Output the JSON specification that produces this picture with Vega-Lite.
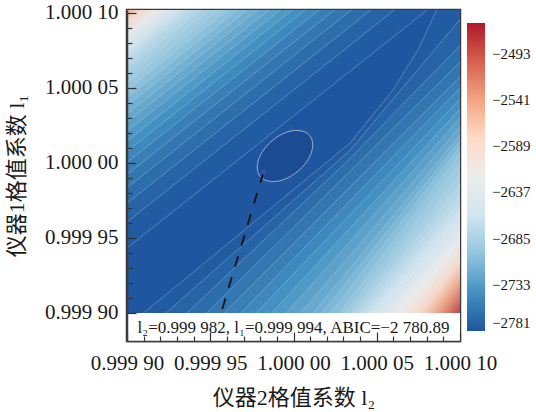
{
"$schema":"https://vega.github.io/schema/vega-lite/v6.json",
"width":333,"height":331,
"autosize":{"type":"none"},
"padding":{"left":127,"top":10,"right":76,"bottom":71},
"background":"white",
"config":{"font":"Liberation Serif","view":{"stroke":"#3c3c3c","strokeWidth":2.5}},
"datasets":{
"frame":[{"l2":0.9999,"l2b":1.0001,"l1":0.99988133,"l1b":1.000102}],
"strip":[{"l2":0.9999,"l2b":1.0001,"l1":0.99988133,"l1b":0.9999}],
"best":[{"l2":0.999982,"l1":0.999994,"l2b":0.9999565,"l1b":0.9999,"abic":-2780.89}],
"note":[{"l2":1.0,"l1":0.99989,"label":"l₂=0.999 982, l₁=0.999 994, ABIC=−2 780.89"}],
"ell":[{"i":0,"l2":1.0000096,"l1":1.0000184},{"i":1,"l2":1.0000115,"l1":1.0000134},{"i":2,"l2":1.0000108,"l1":1.0000072},{"i":3,"l2":1.0000077,"l1":1.0000005},{"i":4,"l2":1.0000026,"l1":0.9999945},{"i":5,"l2":0.9999964,"l1":0.99999},{"i":6,"l2":0.99999,"l1":0.9999878},{"i":7,"l2":0.9999843,"l1":0.9999881},{"i":8,"l2":0.9999802,"l1":0.9999909},{"i":9,"l2":0.9999783,"l1":0.9999959},{"i":10,"l2":0.999979,"l1":1.0000022},{"i":11,"l2":0.9999821,"l1":1.0000088},{"i":12,"l2":0.9999872,"l1":1.0000149},{"i":13,"l2":0.9999934,"l1":1.0000194},{"i":14,"l2":0.9999998,"l1":1.0000216},{"i":15,"l2":1.0000055,"l1":1.0000212}],
"up":[
{"k":1,"abic":-2777,"l2":0.9999,"l1":0.99994331},{"k":1,"abic":-2777,"l2":1.0001,"l1":1.00011931},
{"k":2,"abic":-2771,"l2":0.9999,"l1":0.99996064},{"k":2,"abic":-2771,"l2":1.0001,"l1":1.00013664},
{"k":3,"abic":-2765,"l2":0.9999,"l1":0.99997313},{"k":3,"abic":-2765,"l2":1.0001,"l1":1.00014913},
{"k":4,"abic":-2759,"l2":0.9999,"l1":0.99998342},{"k":4,"abic":-2759,"l2":1.0001,"l1":1.00015942},
{"k":5,"abic":-2753,"l2":0.9999,"l1":0.99999238},{"k":5,"abic":-2753,"l2":1.0001,"l1":1.00016838},
{"k":6,"abic":-2747,"l2":0.9999,"l1":1.00000042},{"k":6,"abic":-2747,"l2":1.0001,"l1":1.00017642},
{"k":7,"abic":-2741,"l2":0.9999,"l1":1.00000778},{"k":7,"abic":-2741,"l2":1.0001,"l1":1.00018378},
{"k":8,"abic":-2735,"l2":0.9999,"l1":1.0000146},{"k":8,"abic":-2735,"l2":1.0001,"l1":1.0001906},
{"k":9,"abic":-2729,"l2":0.9999,"l1":1.000021},{"k":9,"abic":-2729,"l2":1.0001,"l1":1.000197},
{"k":10,"abic":-2723,"l2":0.9999,"l1":1.00002703},{"k":10,"abic":-2723,"l2":1.0001,"l1":1.00020303},
{"k":11,"abic":-2717,"l2":0.9999,"l1":1.00003276},{"k":11,"abic":-2717,"l2":1.0001,"l1":1.00020876},
{"k":12,"abic":-2711,"l2":0.9999,"l1":1.00003822},{"k":12,"abic":-2711,"l2":1.0001,"l1":1.00021422},
{"k":13,"abic":-2705,"l2":0.9999,"l1":1.00004346},{"k":13,"abic":-2705,"l2":1.0001,"l1":1.00021946},
{"k":14,"abic":-2699,"l2":0.9999,"l1":1.00004849},{"k":14,"abic":-2699,"l2":1.0001,"l1":1.00022449},
{"k":15,"abic":-2693,"l2":0.9999,"l1":1.00005334},{"k":15,"abic":-2693,"l2":1.0001,"l1":1.00022934},
{"k":16,"abic":-2687,"l2":0.9999,"l1":1.00005803},{"k":16,"abic":-2687,"l2":1.0001,"l1":1.00023403},
{"k":17,"abic":-2681,"l2":0.9999,"l1":1.00006257},{"k":17,"abic":-2681,"l2":1.0001,"l1":1.00023857},
{"k":18,"abic":-2675,"l2":0.9999,"l1":1.00006698},{"k":18,"abic":-2675,"l2":1.0001,"l1":1.00024298},
{"k":19,"abic":-2669,"l2":0.9999,"l1":1.00007045},{"k":19,"abic":-2669,"l2":1.0001,"l1":1.00024645},
{"k":20,"abic":-2663,"l2":0.9999,"l1":1.0000728},{"k":20,"abic":-2663,"l2":1.0001,"l1":1.0002488},
{"k":21,"abic":-2657,"l2":0.9999,"l1":1.00007487},{"k":21,"abic":-2657,"l2":1.0001,"l1":1.00025087},
{"k":22,"abic":-2651,"l2":0.9999,"l1":1.00007677},{"k":22,"abic":-2651,"l2":1.0001,"l1":1.00025277},
{"k":23,"abic":-2645,"l2":0.9999,"l1":1.00007856},{"k":23,"abic":-2645,"l2":1.0001,"l1":1.00025456},
{"k":24,"abic":-2639,"l2":0.9999,"l1":1.00008025},{"k":24,"abic":-2639,"l2":1.0001,"l1":1.00025625},
{"k":25,"abic":-2633,"l2":0.9999,"l1":1.00008186},{"k":25,"abic":-2633,"l2":1.0001,"l1":1.00025786},
{"k":26,"abic":-2627,"l2":0.9999,"l1":1.0000834},{"k":26,"abic":-2627,"l2":1.0001,"l1":1.0002594},
{"k":27,"abic":-2621,"l2":0.9999,"l1":1.00008495},{"k":27,"abic":-2621,"l2":1.0001,"l1":1.00026095},
{"k":28,"abic":-2615,"l2":0.9999,"l1":1.0000864},{"k":28,"abic":-2615,"l2":1.0001,"l1":1.0002624},
{"k":29,"abic":-2609,"l2":0.9999,"l1":1.0000878},{"k":29,"abic":-2609,"l2":1.0001,"l1":1.0002638},
{"k":30,"abic":-2603,"l2":0.9999,"l1":1.0000892},{"k":30,"abic":-2603,"l2":1.0001,"l1":1.0002652},
{"k":31,"abic":-2597,"l2":0.9999,"l1":1.0000906},{"k":31,"abic":-2597,"l2":1.0001,"l1":1.0002666},
{"k":32,"abic":-2591,"l2":0.9999,"l1":1.0000919},{"k":32,"abic":-2591,"l2":1.0001,"l1":1.0002679},
{"k":33,"abic":-2585,"l2":0.9999,"l1":1.0000932},{"k":33,"abic":-2585,"l2":1.0001,"l1":1.0002692},
{"k":34,"abic":-2579,"l2":0.9999,"l1":1.0000945},{"k":34,"abic":-2579,"l2":1.0001,"l1":1.0002705},
{"k":35,"abic":-2573,"l2":0.9999,"l1":1.0000957},{"k":35,"abic":-2573,"l2":1.0001,"l1":1.0002717},
{"k":36,"abic":-2567,"l2":0.9999,"l1":1.0000969},{"k":36,"abic":-2567,"l2":1.0001,"l1":1.0002729},
{"k":37,"abic":-2561,"l2":0.9999,"l1":1.0000981},{"k":37,"abic":-2561,"l2":1.0001,"l1":1.0002741},
{"k":38,"abic":-2555,"l2":0.9999,"l1":1.0000993},{"k":38,"abic":-2555,"l2":1.0001,"l1":1.0002753},
{"k":39,"abic":-2549,"l2":0.9999,"l1":1.0001005},{"k":39,"abic":-2549,"l2":1.0001,"l1":1.0002765},
{"k":40,"abic":-2543,"l2":0.9999,"l1":1.0001017},{"k":40,"abic":-2543,"l2":1.0001,"l1":1.0002777}
],
"lo":[
{"k":1,"abic":-2777,"l2":0.9999,"l1":0.9998909},{"k":1,"abic":-2777,"l2":1.000034,"l1":1.0000133},{"k":1,"abic":-2777,"l2":1.00006,"l1":1.000049},{"k":1,"abic":-2777,"l2":1.000075,"l1":1.000076},{"k":1,"abic":-2777,"l2":1.000086,"l1":1.000102},{"k":1,"abic":-2777,"l2":1.0001,"l1":1.00014},
{"k":2,"abic":-2771,"l2":0.9999,"l1":0.999877},{"k":2,"abic":-2771,"l2":1.000034,"l1":1.0000085},{"k":2,"abic":-2771,"l2":1.0001,"l1":1.0000957},
{"k":3,"abic":-2765,"l2":0.999936,"l1":0.9999},{"k":3,"abic":-2765,"l2":1.000034,"l1":1.000003},{"k":3,"abic":-2765,"l2":1.0001,"l1":1.0000782},
{"k":4,"abic":-2759,"l2":0.999948,"l1":0.9999},{"k":4,"abic":-2759,"l2":1.0001,"l1":1.0000673},
{"k":5,"abic":-2753,"l2":0.9999583,"l1":0.9999},{"k":5,"abic":-2753,"l2":1.0001,"l1":1.0000575},
{"k":6,"abic":-2747,"l2":0.9999683,"l1":0.9999},{"k":6,"abic":-2747,"l2":1.0001,"l1":1.00005},
{"k":7,"abic":-2741,"l2":0.9999777,"l1":0.9999},{"k":7,"abic":-2741,"l2":1.0001,"l1":1.0000425},
{"k":8,"abic":-2735,"l2":0.9999869,"l1":0.9999},{"k":8,"abic":-2735,"l2":1.0001,"l1":1.000036},
{"k":9,"abic":-2729,"l2":0.9999957,"l1":0.9999},{"k":9,"abic":-2729,"l2":1.0001,"l1":1.00003},
{"k":10,"abic":-2723,"l2":1.0000043,"l1":0.9999},{"k":10,"abic":-2723,"l2":1.0001,"l1":1.000024},
{"k":11,"abic":-2717,"l2":1.0000117,"l1":0.9999},{"k":11,"abic":-2717,"l2":1.0001,"l1":1.0000187},
{"k":12,"abic":-2711,"l2":1.000017,"l1":0.9999},{"k":12,"abic":-2711,"l2":1.0001,"l1":1.000015},
{"k":13,"abic":-2705,"l2":1.0000222,"l1":0.9999},{"k":13,"abic":-2705,"l2":1.0001,"l1":1.0000112},
{"k":14,"abic":-2699,"l2":1.0000274,"l1":0.9999},{"k":14,"abic":-2699,"l2":1.0001,"l1":1.0000065},
{"k":15,"abic":-2693,"l2":1.0000313,"l1":0.9999},{"k":15,"abic":-2693,"l2":1.0001,"l1":0.9999998},
{"k":16,"abic":-2687,"l2":1.000034,"l1":0.9999},{"k":16,"abic":-2687,"l2":1.0001,"l1":0.9999931},
{"k":17,"abic":-2681,"l2":1.0000366,"l1":0.9999},{"k":17,"abic":-2681,"l2":1.0001,"l1":0.9999864},
{"k":18,"abic":-2675,"l2":1.0000392,"l1":0.9999},{"k":18,"abic":-2675,"l2":1.0001,"l1":0.9999797},
{"k":19,"abic":-2669,"l2":1.0000419,"l1":0.9999},{"k":19,"abic":-2669,"l2":1.0001,"l1":0.9999741},
{"k":20,"abic":-2663,"l2":1.0000445,"l1":0.9999},{"k":20,"abic":-2663,"l2":1.0001,"l1":0.9999704},
{"k":21,"abic":-2657,"l2":1.0000472,"l1":0.9999},{"k":21,"abic":-2657,"l2":1.0001,"l1":0.9999668},
{"k":22,"abic":-2651,"l2":1.0000498,"l1":0.9999},{"k":22,"abic":-2651,"l2":1.0001,"l1":0.9999631},
{"k":23,"abic":-2645,"l2":1.0000524,"l1":0.9999},{"k":23,"abic":-2645,"l2":1.0001,"l1":0.9999594},
{"k":24,"abic":-2639,"l2":1.0000548,"l1":0.9999},{"k":24,"abic":-2639,"l2":1.0001,"l1":0.9999562},
{"k":25,"abic":-2633,"l2":1.0000572,"l1":0.9999},{"k":25,"abic":-2633,"l2":1.0001,"l1":0.9999538},
{"k":26,"abic":-2627,"l2":1.0000596,"l1":0.9999},{"k":26,"abic":-2627,"l2":1.0001,"l1":0.9999514},
{"k":27,"abic":-2621,"l2":1.000062,"l1":0.9999},{"k":27,"abic":-2621,"l2":1.0001,"l1":0.999949},
{"k":28,"abic":-2615,"l2":1.0000644,"l1":0.9999},{"k":28,"abic":-2615,"l2":1.0001,"l1":0.9999466},
{"k":29,"abic":-2609,"l2":1.0000668,"l1":0.9999},{"k":29,"abic":-2609,"l2":1.0001,"l1":0.9999443},
{"k":30,"abic":-2603,"l2":1.0000688,"l1":0.9999},{"k":30,"abic":-2603,"l2":1.0001,"l1":0.9999423},
{"k":31,"abic":-2597,"l2":1.0000705,"l1":0.9999},{"k":31,"abic":-2597,"l2":1.0001,"l1":0.9999402},
{"k":32,"abic":-2591,"l2":1.0000721,"l1":0.9999},{"k":32,"abic":-2591,"l2":1.0001,"l1":0.9999381},
{"k":33,"abic":-2585,"l2":1.0000738,"l1":0.9999},{"k":33,"abic":-2585,"l2":1.0001,"l1":0.9999361},
{"k":34,"abic":-2579,"l2":1.0000754,"l1":0.9999},{"k":34,"abic":-2579,"l2":1.0001,"l1":0.999934},
{"k":35,"abic":-2573,"l2":1.0000771,"l1":0.9999},{"k":35,"abic":-2573,"l2":1.0001,"l1":0.9999321},
{"k":36,"abic":-2567,"l2":1.0000787,"l1":0.9999},{"k":36,"abic":-2567,"l2":1.0001,"l1":0.9999304},
{"k":37,"abic":-2561,"l2":1.0000801,"l1":0.9999},{"k":37,"abic":-2561,"l2":1.0001,"l1":0.9999287},
{"k":38,"abic":-2555,"l2":1.0000815,"l1":0.9999},{"k":38,"abic":-2555,"l2":1.0001,"l1":0.9999269},
{"k":39,"abic":-2549,"l2":1.0000828,"l1":0.9999},{"k":39,"abic":-2549,"l2":1.0001,"l1":0.9999252},
{"k":40,"abic":-2543,"l2":1.0000842,"l1":0.9999},{"k":40,"abic":-2543,"l2":1.0001,"l1":0.9999235},
{"k":41,"abic":-2537,"l2":1.0000855,"l1":0.9999},{"k":41,"abic":-2537,"l2":1.0001,"l1":0.9999217},
{"k":42,"abic":-2531,"l2":1.0000869,"l1":0.9999},{"k":42,"abic":-2531,"l2":1.0001,"l1":0.99992},
{"k":43,"abic":-2525,"l2":1.0000882,"l1":0.9999},{"k":43,"abic":-2525,"l2":1.0001,"l1":0.9999182},
{"k":44,"abic":-2519,"l2":1.0000894,"l1":0.9999},{"k":44,"abic":-2519,"l2":1.0001,"l1":0.9999164},
{"k":45,"abic":-2513,"l2":1.0000906,"l1":0.9999},{"k":45,"abic":-2513,"l2":1.0001,"l1":0.9999146},
{"k":46,"abic":-2507,"l2":1.0000918,"l1":0.9999},{"k":46,"abic":-2507,"l2":1.0001,"l1":0.9999128},
{"k":47,"abic":-2501,"l2":1.000093,"l1":0.9999},{"k":47,"abic":-2501,"l2":1.0001,"l1":0.999911},
{"k":48,"abic":-2495,"l2":1.0000942,"l1":0.9999},{"k":48,"abic":-2495,"l2":1.0001,"l1":0.9999092},
{"k":49,"abic":-2489,"l2":1.0000954,"l1":0.9999},{"k":49,"abic":-2489,"l2":1.0001,"l1":0.9999074},
{"k":50,"abic":-2483,"l2":1.0000966,"l1":0.9999},{"k":50,"abic":-2483,"l2":1.0001,"l1":0.9999054},
{"k":51,"abic":-2477,"l2":1.0000978,"l1":0.9999},{"k":51,"abic":-2477,"l2":1.0001,"l1":0.9999035},
{"k":52,"abic":-2471,"l2":1.000099,"l1":0.9999},{"k":52,"abic":-2471,"l2":1.0001,"l1":0.9999016}
]
},
"encoding":{
"x":{"field":"l2","type":"quantitative","scale":{"domain":[0.9999,1.0001],"nice":false,"zero":false},
"axis":{"values":[0.9999,0.99991,0.99992,0.99993,0.99994,0.99995,0.99996,0.99997,0.99998,0.99999,1.0,1.00001,1.00002,1.00003,1.00004,1.00005,1.00006,1.00007,1.00008,1.00009,1.0001],
"labelExpr":"abs(datum.value*20000-round(datum.value*20000))<0.01 ? substring(format(datum.value,'.5f'),0,5)+' '+substring(format(datum.value,'.5f'),5) : ''",
"tickSize":{"condition":{"test":"abs(datum.value*20000-round(datum.value*20000))<0.01","value":-9},"value":-5},
"tickColor":"#333333","tickWidth":1.2,"domainColor":"#3c3c3c","domainWidth":1.5,"grid":false,
"labelFont":"Liberation Serif","labelFontSize":21,"labelColor":"#1a1a1a","labelPadding":20,"labelFlush":false,"labelOverlap":false,"labelBound":false,
"title":"仪器2格值系数 l₂","titleFont":"Liberation Serif, Noto Sans CJK SC","titleFontSize":22,"titleFontWeight":"normal","titleColor":"#1a1a1a","titlePadding":10,"zindex":1}},
"y":{"field":"l1","type":"quantitative","scale":{"domain":[0.99988133,1.000102],"nice":false,"zero":false},
"axis":{"values":[0.9999,0.99991,0.99992,0.99993,0.99994,0.99995,0.99996,0.99997,0.99998,0.99999,1.0,1.00001,1.00002,1.00003,1.00004,1.00005,1.00006,1.00007,1.00008,1.00009,1.0001],
"labelExpr":"abs(datum.value*20000-round(datum.value*20000))<0.01 ? substring(format(datum.value,'.5f'),0,5)+' '+substring(format(datum.value,'.5f'),5) : ''",
"tickSize":{"condition":{"test":"abs(datum.value*20000-round(datum.value*20000))<0.01","value":-9},"value":-5},
"tickColor":"#333333","tickWidth":1.2,"domainColor":"#3c3c3c","domainWidth":1.5,"grid":false,
"labelFont":"Liberation Serif","labelFontSize":21,"labelColor":"#1a1a1a","labelPadding":18,"labelFlush":false,"labelOverlap":false,"labelBound":false,
"title":"仪器1格值系数 l₁","titleFont":"Liberation Serif, Noto Sans CJK SC","titleFontSize":22,"titleFontWeight":"normal","titleColor":"#1a1a1a","titlePadding":16,"zindex":1}}
},
"layer":[
{"data":{"name":"frame"},"mark":{"type":"rect","color":"#1e569f"},"encoding":{"x2":{"field":"l2b"},"y2":{"field":"l1b"}}},
{"data":{"name":"up"},"mark":{"type":"area","clip":true},"encoding":{"y":{"field":"l1","type":"quantitative","stack":null},"y2":{"datum":1.000102},"detail":{"field":"k","type":"nominal"},
"color":{"field":"abic","type":"quantitative","scale":{"type":"linear","domain":[-2781,-2741,-2701,-2661,-2621,-2581,-2541,-2501,-2461],"range":["#1d559e","#4391c2","#92c5de","#d1e5f0","#ededed","#fddbc7","#f4a582","#d6604d","#b2182b"],"interpolate":"rgb"},
"legend":{"title":null,"orient":"none","legendX":340,"legendY":13,"direction":"vertical","gradientLength":308,"gradientThickness":18,"gradientStrokeWidth":0,"values":[-2781,-2733,-2685,-2637,-2589,-2541,-2493],"format":"d","labelFont":"Liberation Serif","labelFontSize":15,"labelOffset":7,"labelColor":"#1a1a1a","labelBaseline":"middle","padding":0,"labelOverlap":false}}}},
{"data":{"name":"lo"},"mark":{"type":"area","clip":true},"encoding":{"y":{"field":"l1","type":"quantitative","stack":null},"y2":{"datum":0.99988133},"detail":{"field":"k","type":"nominal"},"color":{"field":"abic","type":"quantitative"}}},
{"data":{"name":"up"},"mark":{"type":"line","clip":true,"color":"#c8d3de","strokeWidth":0.7,"opacity":0.5},"encoding":{"detail":{"field":"k","type":"nominal"}}},
{"data":{"name":"lo"},"mark":{"type":"line","clip":true,"color":"#c8d3de","strokeWidth":0.7,"opacity":0.5},"encoding":{"detail":{"field":"k","type":"nominal"}}},
{"data":{"name":"ell"},"mark":{"type":"line","interpolate":"cardinal-closed","fill":"#1b4c93","stroke":"#b9c7d6","strokeWidth":1,"strokeOpacity":0.8,"clip":true},"encoding":{"order":{"field":"i","type":"quantitative"}}},
{"data":{"name":"strip"},"mark":{"type":"rect","color":"white"},"encoding":{"x2":{"field":"l2b"},"y2":{"field":"l1b"}}},
{"data":{"name":"best"},"mark":{"type":"rule","strokeDash":[11,11],"strokeWidth":1.8,"color":"#111111"},"encoding":{"x2":{"field":"l2b"},"y2":{"field":"l1b"}}},
{"data":{"name":"best"},"mark":{"type":"point","filled":true,"color":"#3e4fb4","size":32,"opacity":0.9}},
{"data":{"name":"note"},"mark":{"type":"text","font":"Liberation Serif","fontSize":17,"color":"#1a1a1a","baseline":"middle","align":"center"},"encoding":{"text":{"field":"label"}}}
]
}
